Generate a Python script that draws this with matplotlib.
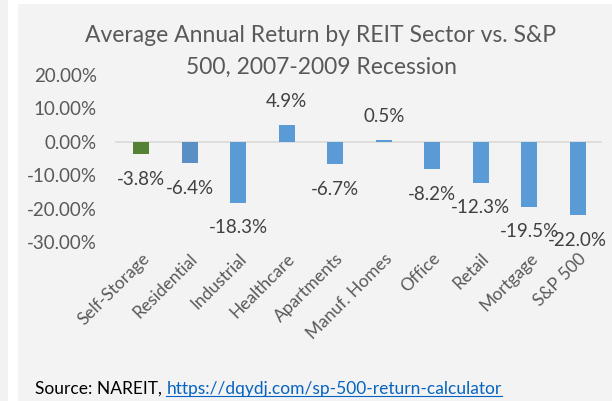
import matplotlib
matplotlib.use("Agg")
import matplotlib.pyplot as plt
from matplotlib.patches import Rectangle
from matplotlib.lines import Line2D

categories = ["Self-Storage", "Residential", "Industrial", "Healthcare", "Apartments",
              "Manuf. Homes", "Office", "Retail", "Mortgage", "S&P 500"]
values = [-3.8, -6.4, -18.3, 4.9, -6.7, 0.5, -8.2, -12.3, -19.5, -22.0]
bar_colors = ["#548235", "#5a8fc6", "#5b9bd5", "#5b9bd5", "#5b9bd5",
              "#5b9bd5", "#5b9bd5", "#5b9bd5", "#5b9bd5", "#5b9bd5"]
yticks = [20, 10, 0, -10, -20, -30]

plt.rcParams['font.family'] = ['Lato', 'DejaVu Sans']
W, H = 612, 401
fig = plt.figure(figsize=(W/100, H/100), dpi=100)
fig.patch.set_facecolor("white")

# background panels
fig.patches.append(Rectangle((0, 0), 8/W, 1, transform=fig.transFigure,
                             facecolor="#f2f2f2", edgecolor="none", zorder=-5))
fig.patches.append(Rectangle((18/W, 0), 1, 1 - 4/H, transform=fig.transFigure,
                             facecolor="#f3f3f3", edgecolor="none", zorder=-5))

left, right = 115/W, 602/W
top, bottom = 1 - 75/H, 1 - 242/H
ax = fig.add_axes([left, bottom, right - left, top - bottom])
ax.set_facecolor("none")
ax.set_zorder(2)

x = list(range(len(categories)))
ax.bar(x, values, width=0.33, color=bar_colors, zorder=2)
ax.axhline(0, color="#d9d9d9", lw=1.2, zorder=1)
ax.set_xlim(-0.54, 9.5)
ax.set_ylim(-30, 20)

for s in ax.spines.values():
    s.set_visible(False)
ax.set_yticks(yticks)
ax.set_yticklabels([f"{v:.2f}%" for v in yticks], fontsize=13.5, color="#595959")
ax.tick_params(axis="y", length=0, pad=13)
ax.set_xticks(x)
ax.set_xticklabels(categories, rotation=45, ha="right", va="top",
                   rotation_mode="anchor", fontsize=12.5, color="#595959")
ax.tick_params(axis="x", length=0, pad=6)

for xi, v in zip(x, values):
    off = 17 if v >= 0 else -18
    ax.annotate(f"{v:.1f}%", (xi, v), xytext=(0, off), textcoords="offset points",
                ha="center", va="center", fontsize=13.5, color="#404040", zorder=3)

fig.text(321/W, 1 - 35/H, "Average Annual Return by REIT Sector vs. S&P",
         ha="center", va="center", fontsize=16.5, color="#595959")
fig.text(321/W, 1 - 67/H, "500, 2007-2009 Recession",
         ha="center", va="center", fontsize=16.5, color="#595959")

t1 = fig.text(35/W, 1 - 389/H, "Source: NAREIT, ", ha="left", va="center",
              fontsize=12.5, color="black")
fig.canvas.draw()
bb = t1.get_window_extent()
t2 = fig.text(bb.x1 / W, 1 - 389/H, "https://dqydj.com/sp-500-return-calculator",
              ha="left", va="center", fontsize=12.5, color="#0563c1")
fig.canvas.draw()
bb2 = t2.get_window_extent()
uy = (bb2.y0 + 1) / H
fig.add_artist(Line2D([bb2.x0 / W, bb2.x1 / W], [uy, uy], transform=fig.transFigure,
                      color="#0563c1", lw=0.8))

fig.savefig("out.png", dpi=100)
